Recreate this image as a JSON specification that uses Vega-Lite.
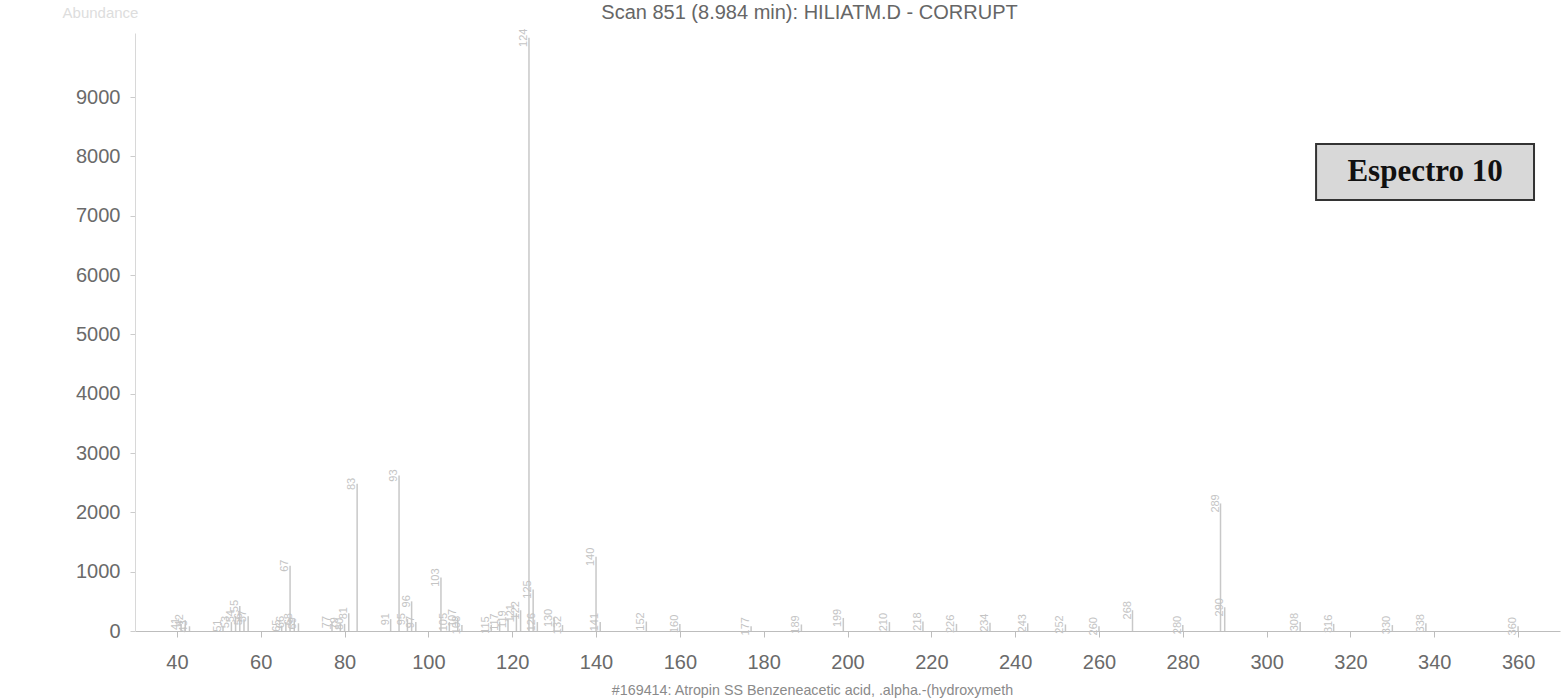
{
  "$schema": "https://vega.github.io/schema/vega-lite/v6.json",
  "width": 1425,
  "height": 598,
  "autosize": {"type": "none"},
  "padding": {"left": 135, "top": 33, "right": 8, "bottom": 67},
  "background": "white",
  "config": {"view": {"stroke": null}, "font": "Liberation Sans"},
  "title": {
    "text": "Scan 851 (8.984 min): HILIATM.D - CORRUPT",
    "fontSize": 20,
    "fontWeight": "normal",
    "color": "#666666",
    "anchor": "middle",
    "dx": -38,
    "dy": 18,
    "offset": 0
  },
  "datasets": {
    "peaks": [
      {"mz": 41, "abundance": 120}, {"mz": 42, "abundance": 180}, {"mz": 43, "abundance": 80},
      {"mz": 51, "abundance": 90}, {"mz": 53, "abundance": 150}, {"mz": 54, "abundance": 250},
      {"mz": 55, "abundance": 420}, {"mz": 56, "abundance": 200}, {"mz": 57, "abundance": 250},
      {"mz": 65, "abundance": 90}, {"mz": 66, "abundance": 150}, {"mz": 67, "abundance": 1100},
      {"mz": 68, "abundance": 200}, {"mz": 69, "abundance": 130}, {"mz": 77, "abundance": 150},
      {"mz": 79, "abundance": 130}, {"mz": 80, "abundance": 120}, {"mz": 81, "abundance": 300},
      {"mz": 83, "abundance": 2480}, {"mz": 91, "abundance": 200}, {"mz": 93, "abundance": 2620},
      {"mz": 95, "abundance": 200}, {"mz": 96, "abundance": 500}, {"mz": 97, "abundance": 150},
      {"mz": 103, "abundance": 900}, {"mz": 105, "abundance": 150}, {"mz": 107, "abundance": 220},
      {"mz": 108, "abundance": 100}, {"mz": 115, "abundance": 100}, {"mz": 117, "abundance": 150},
      {"mz": 119, "abundance": 200}, {"mz": 121, "abundance": 300}, {"mz": 122, "abundance": 350},
      {"mz": 124, "abundance": 10000}, {"mz": 125, "abundance": 700}, {"mz": 126, "abundance": 150},
      {"mz": 130, "abundance": 220}, {"mz": 132, "abundance": 100}, {"mz": 140, "abundance": 1250},
      {"mz": 141, "abundance": 150}, {"mz": 152, "abundance": 160}, {"mz": 160, "abundance": 120},
      {"mz": 177, "abundance": 80}, {"mz": 189, "abundance": 110}, {"mz": 199, "abundance": 220},
      {"mz": 210, "abundance": 150}, {"mz": 218, "abundance": 160}, {"mz": 226, "abundance": 120},
      {"mz": 234, "abundance": 140}, {"mz": 243, "abundance": 130}, {"mz": 252, "abundance": 110},
      {"mz": 260, "abundance": 80}, {"mz": 268, "abundance": 350}, {"mz": 280, "abundance": 100},
      {"mz": 289, "abundance": 2150}, {"mz": 290, "abundance": 400}, {"mz": 308, "abundance": 150},
      {"mz": 316, "abundance": 120}, {"mz": 330, "abundance": 100}, {"mz": 338, "abundance": 130},
      {"mz": 360, "abundance": 80}
    ]
  },
  "layer": [
    {
      "data": {"name": "peaks"},
      "mark": {"type": "rule", "color": "#c8c8c8", "strokeWidth": 1.5},
      "encoding": {
        "x": {
          "field": "mz", "type": "quantitative",
          "scale": {"domain": [30, 370], "nice": false, "zero": false},
          "axis": {
            "values": [40, 60, 80, 100, 120, 140, 160, 180, 200, 220, 240, 260, 280, 300, 320, 340, 360],
            "format": "d",
            "grid": false,
            "domainColor": "#bdbdbd",
            "tickColor": "#bdbdbd",
            "tickSize": 6,
            "labelFontSize": 20,
            "labelColor": "#6a6a6a",
            "labelPadding": 15,
            "labelFlush": false,
            "title": "#169414: Atropin SS Benzeneacetic acid, .alpha.-(hydroxymeth",
            "titleFontSize": 14.3,
            "titleFontWeight": "normal",
            "titleColor": "#8a8a8a",
            "titleX": 677,
            "titleY": 59,
            "titleBaseline": "middle",
            "titleAlign": "center"
          }
        },
        "y": {
          "field": "abundance", "type": "quantitative",
          "scale": {"domain": [0, 10080], "nice": false},
          "axis": {
            "values": [0, 1000, 2000, 3000, 4000, 5000, 6000, 7000, 8000, 9000],
            "format": "d",
            "grid": false,
            "domainColor": "#d8d8d8",
            "tickColor": "#cccccc",
            "tickSize": 5,
            "labelFontSize": 20,
            "labelColor": "#6a6a6a",
            "labelPadding": 10,
            "title": "Abundance",
            "titleAngle": 0,
            "titleX": -35,
            "titleY": -21,
            "titleAlign": "center",
            "titleBaseline": "middle",
            "titleFontSize": 15,
            "titleFontWeight": "normal",
            "titleColor": "#dddddd"
          }
        },
        "y2": {"datum": 0}
      }
    },
    {
      "data": {"name": "peaks"},
      "mark": {"type": "text", "angle": 270, "align": "center", "baseline": "bottom", "fontSize": 11, "color": "#c4c4c4"},
      "encoding": {
        "x": {"field": "mz", "type": "quantitative"},
        "y": {"field": "abundance", "type": "quantitative"},
        "text": {"field": "mz", "type": "quantitative", "format": "d"}
      }
    },
    {
      "data": {"values": [{}]},
      "mark": {"type": "rect", "fill": "#d8d8d8", "stroke": "#333333", "strokeWidth": 2},
      "encoding": {
        "x": {"datum": 311.8, "type": "quantitative"},
        "x2": {"datum": 363.8},
        "y": {"datum": 8208, "type": "quantitative"},
        "y2": {"datum": 7264}
      }
    },
    {
      "data": {"values": [{}]},
      "mark": {"type": "text", "text": "Espectro 10", "font": "Liberation Serif", "fontWeight": "bold", "fontSize": 31, "color": "#111111", "align": "center", "baseline": "middle"},
      "encoding": {
        "x": {"datum": 337.8, "type": "quantitative"},
        "y": {"datum": 7736, "type": "quantitative"}
      }
    }
  ]
}
